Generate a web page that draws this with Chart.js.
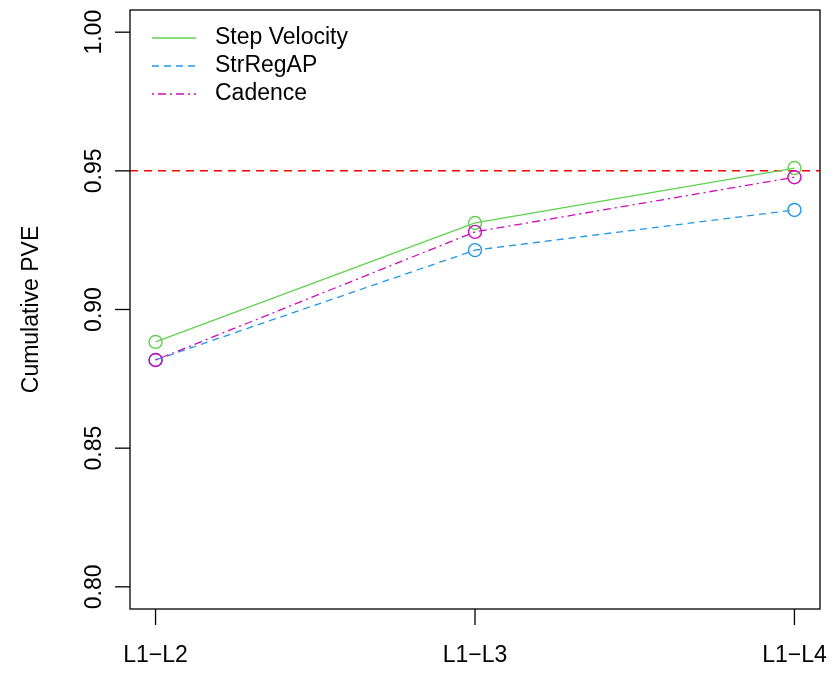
<!DOCTYPE html>
<html>
<head>
<meta charset="utf-8">
<script src="https://cdn.jsdelivr.net/npm/chart.js@4"></script>
<style>
  html, body { margin: 0; padding: 0; background: #fff; }
  #wrap { width: 832px; height: 675px; }
</style>
</head>
<body>
<div id="wrap"><canvas id="c" width="832" height="675"></canvas></div>
<script>
const categories = ["L1\u2212L2", "L1\u2212L3", "L1\u2212L4"]
const stepVelocity = [0.8883, 0.9312, 0.9510]
const strRegAP = [0.8818, 0.9214, 0.9359]
const cadence = [0.8818, 0.9280, 0.9477]
const yTicks = ["0.80", "0.85", "0.90", "0.95", "1.00"]
const threshold = 0.95

const FONT = '"Liberation Sans", Arial, Helvetica, sans-serif'

const series = [
  { label: "Step Velocity", data: stepVelocity, color: "#61D04F", dash: [] },
  { label: "StrRegAP", data: strRegAP, color: "#2297E6", dash: [7, 5] },
  { label: "Cadence", data: cadence, color: "#CD0BBC", dash: [2, 4, 8, 4] },
]

// draws the R-style box, axes, ticks, reference line and legend
const basePlot = {
  id: 'basePlot',
  beforeDatasetsDraw(chart) {
    const { ctx, chartArea: a, scales: { y } } = chart
    ctx.save()
    const ry = y.getPixelForValue(threshold)
    ctx.strokeStyle = '#FF0000'
    ctx.lineWidth = 1.5
    ctx.setLineDash([8, 6])
    ctx.beginPath()
    ctx.moveTo(a.left, ry)
    ctx.lineTo(a.right, ry)
    ctx.stroke()
    ctx.restore()
  },
  afterDraw(chart) {
    const { ctx, chartArea: a, scales: { x, y } } = chart
    ctx.save()
    ctx.strokeStyle = '#000'
    ctx.lineWidth = 1.3
    ctx.setLineDash([])
    ctx.strokeRect(a.left, a.top, a.right - a.left, a.bottom - a.top)

    ctx.fillStyle = '#000'
    ctx.font = '23px ' + FONT

    // x ticks
    ctx.textAlign = 'center'
    ctx.textBaseline = 'middle'
    categories.forEach((c, i) => {
      const px = x.getPixelForValue(i + 1)
      ctx.beginPath()
      ctx.moveTo(px, a.bottom)
      ctx.lineTo(px, a.bottom + 16)
      ctx.stroke()
      ctx.fillText(c, px, 656)
    })

    // y ticks, rotated labels
    yTicks.forEach(t => {
      const py = y.getPixelForValue(parseFloat(t))
      ctx.beginPath()
      ctx.moveTo(a.left, py)
      ctx.lineTo(a.left - 15, py)
      ctx.stroke()
      ctx.save()
      ctx.translate(95, py)
      ctx.rotate(-Math.PI / 2)
      ctx.fillText(t, 0, 0)
      ctx.restore()
    })

    // y title
    ctx.save()
    ctx.translate(32, (a.top + a.bottom) / 2)
    ctx.rotate(-Math.PI / 2)
    ctx.fillText("Cumulative PVE", 0, 0)
    ctx.restore()

    // legend
    ctx.textAlign = 'left'
    series.forEach((s, i) => {
      const ly = 38 + i * 28
      ctx.strokeStyle = s.color
      ctx.lineWidth = 1.3
      ctx.setLineDash(s.dash)
      ctx.beginPath()
      ctx.moveTo(152, ly)
      ctx.lineTo(196, ly)
      ctx.stroke()
      ctx.fillStyle = '#000'
      ctx.fillText(s.label, 215, ly)
    })
    ctx.restore()
  }
}

new Chart(document.getElementById('c'), {
  type: 'line',
  data: {
    datasets: series.map((s, i) => ({
      label: s.label,
      data: s.data.map((v, j) => ({ x: j + 1, y: v })),
      order: series.length - i, // later series drawn on top, as in R
      borderColor: s.color,
      borderWidth: 1.3,
      borderDash: s.dash,
      pointStyle: 'circle',
      pointRadius: 6.5,
      pointBorderWidth: 1.4,
      pointBackgroundColor: 'rgba(0,0,0,0)',
      pointBorderColor: s.color,
      fill: false,
      tension: 0
    }))
  },
  options: {
    responsive: false,
    animation: false,
    layout: { padding: { left: 130, right: 12, top: 10, bottom: 66 } },
    plugins: { legend: { display: false }, tooltip: { enabled: false } },
    scales: {
      x: { type: 'linear', min: 0.92, max: 3.08, display: false },
      y: { type: 'linear', min: 0.792, max: 1.008, display: false }
    }
  },
  plugins: [basePlot]
})
</script>
</body>
</html>
